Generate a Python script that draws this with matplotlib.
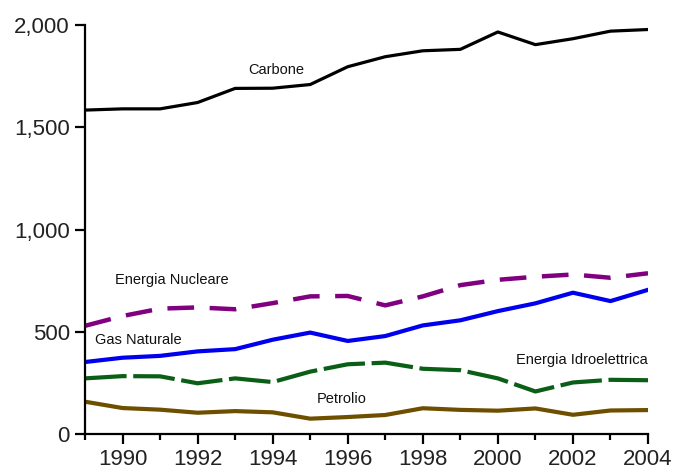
import matplotlib.pyplot as plt
from matplotlib.ticker import FuncFormatter, MultipleLocator

years = list(range(1989, 2005))
carbone = [1584, 1590, 1590, 1621, 1690, 1691, 1709, 1796, 1845, 1874, 1881, 1966, 1904, 1933, 1970, 1978]
nucleare = [529, 577, 613, 619, 610, 640, 673, 675, 629, 673, 728, 754, 769, 780, 764, 786]
gas = [352, 373, 382, 404, 415, 461, 496, 455, 479, 531, 556, 601, 639, 691, 650, 705]
idro = [272, 283, 282, 248, 272, 254, 305, 341, 349, 319, 312, 272, 208, 252, 265, 263]
petrolio = [158, 127, 119, 104, 112, 106, 75, 83, 93, 126, 118, 114, 125, 94, 115, 117]

major_years = [y for y in years if y % 2 == 0]
minor_years = [y for y in years if y % 2 == 1]

plt.rcParams['font.family'] = ['Liberation Sans', 'DejaVu Sans']

fig = plt.figure(figsize=(6.76, 4.72), dpi=100)
ax = fig.add_axes([0.1257, 0.0805, 0.8329, 0.8665])

ax.plot(years, carbone, color="black", lw=2.3, solid_capstyle="butt")
ax.plot(years, nucleare, color="#800080", lw=3.2, dashes=(6, 3.5))
ax.plot(years, gas, color="#0000ee", lw=3.0)
ax.plot(years, idro, color="#0b5e16", lw=3.0, dashes=(10, 1.6))
ax.plot(years, petrolio, color="#6e4f00", lw=3.0)

tk = dict(fontsize=10.5, color="#111111")
ax.text(1994.1, 1780, "Carbone", ha="center", va="center", **tk)
ax.text(1989.8, 753, "Energia Nucleare", ha="left", va="center", **tk)
ax.text(1989.27, 460, "Gas Naturale", ha="left", va="center", **tk)
ax.text(2004.0, 362, "Energia Idroelettrica", ha="right", va="center", **tk)
ax.text(1995.85, 171, "Petrolio", ha="center", va="center", **tk)

ax.set_xlim(1989, 2004)
ax.set_ylim(0, 2000)
ax.set_xticks(major_years)
ax.set_xticks(minor_years, minor=True)
ax.yaxis.set_major_locator(MultipleLocator(500))
ax.yaxis.set_major_formatter(FuncFormatter(lambda v, p: "{:,.0f}".format(v)))

for side in ["top", "right"]:
    ax.spines[side].set_visible(False)
for side in ["left", "bottom"]:
    ax.spines[side].set_linewidth(1.6)

ax.tick_params(axis="both", direction="out", length=7, width=1.6,
               labelsize=16, colors="black", pad=4)
ax.tick_params(axis="x", which="minor", length=4, width=1.6)
for lbl in ax.get_xticklabels() + ax.get_yticklabels():
    lbl.set_color("#222222")

fig.savefig("out.png", dpi=100)
